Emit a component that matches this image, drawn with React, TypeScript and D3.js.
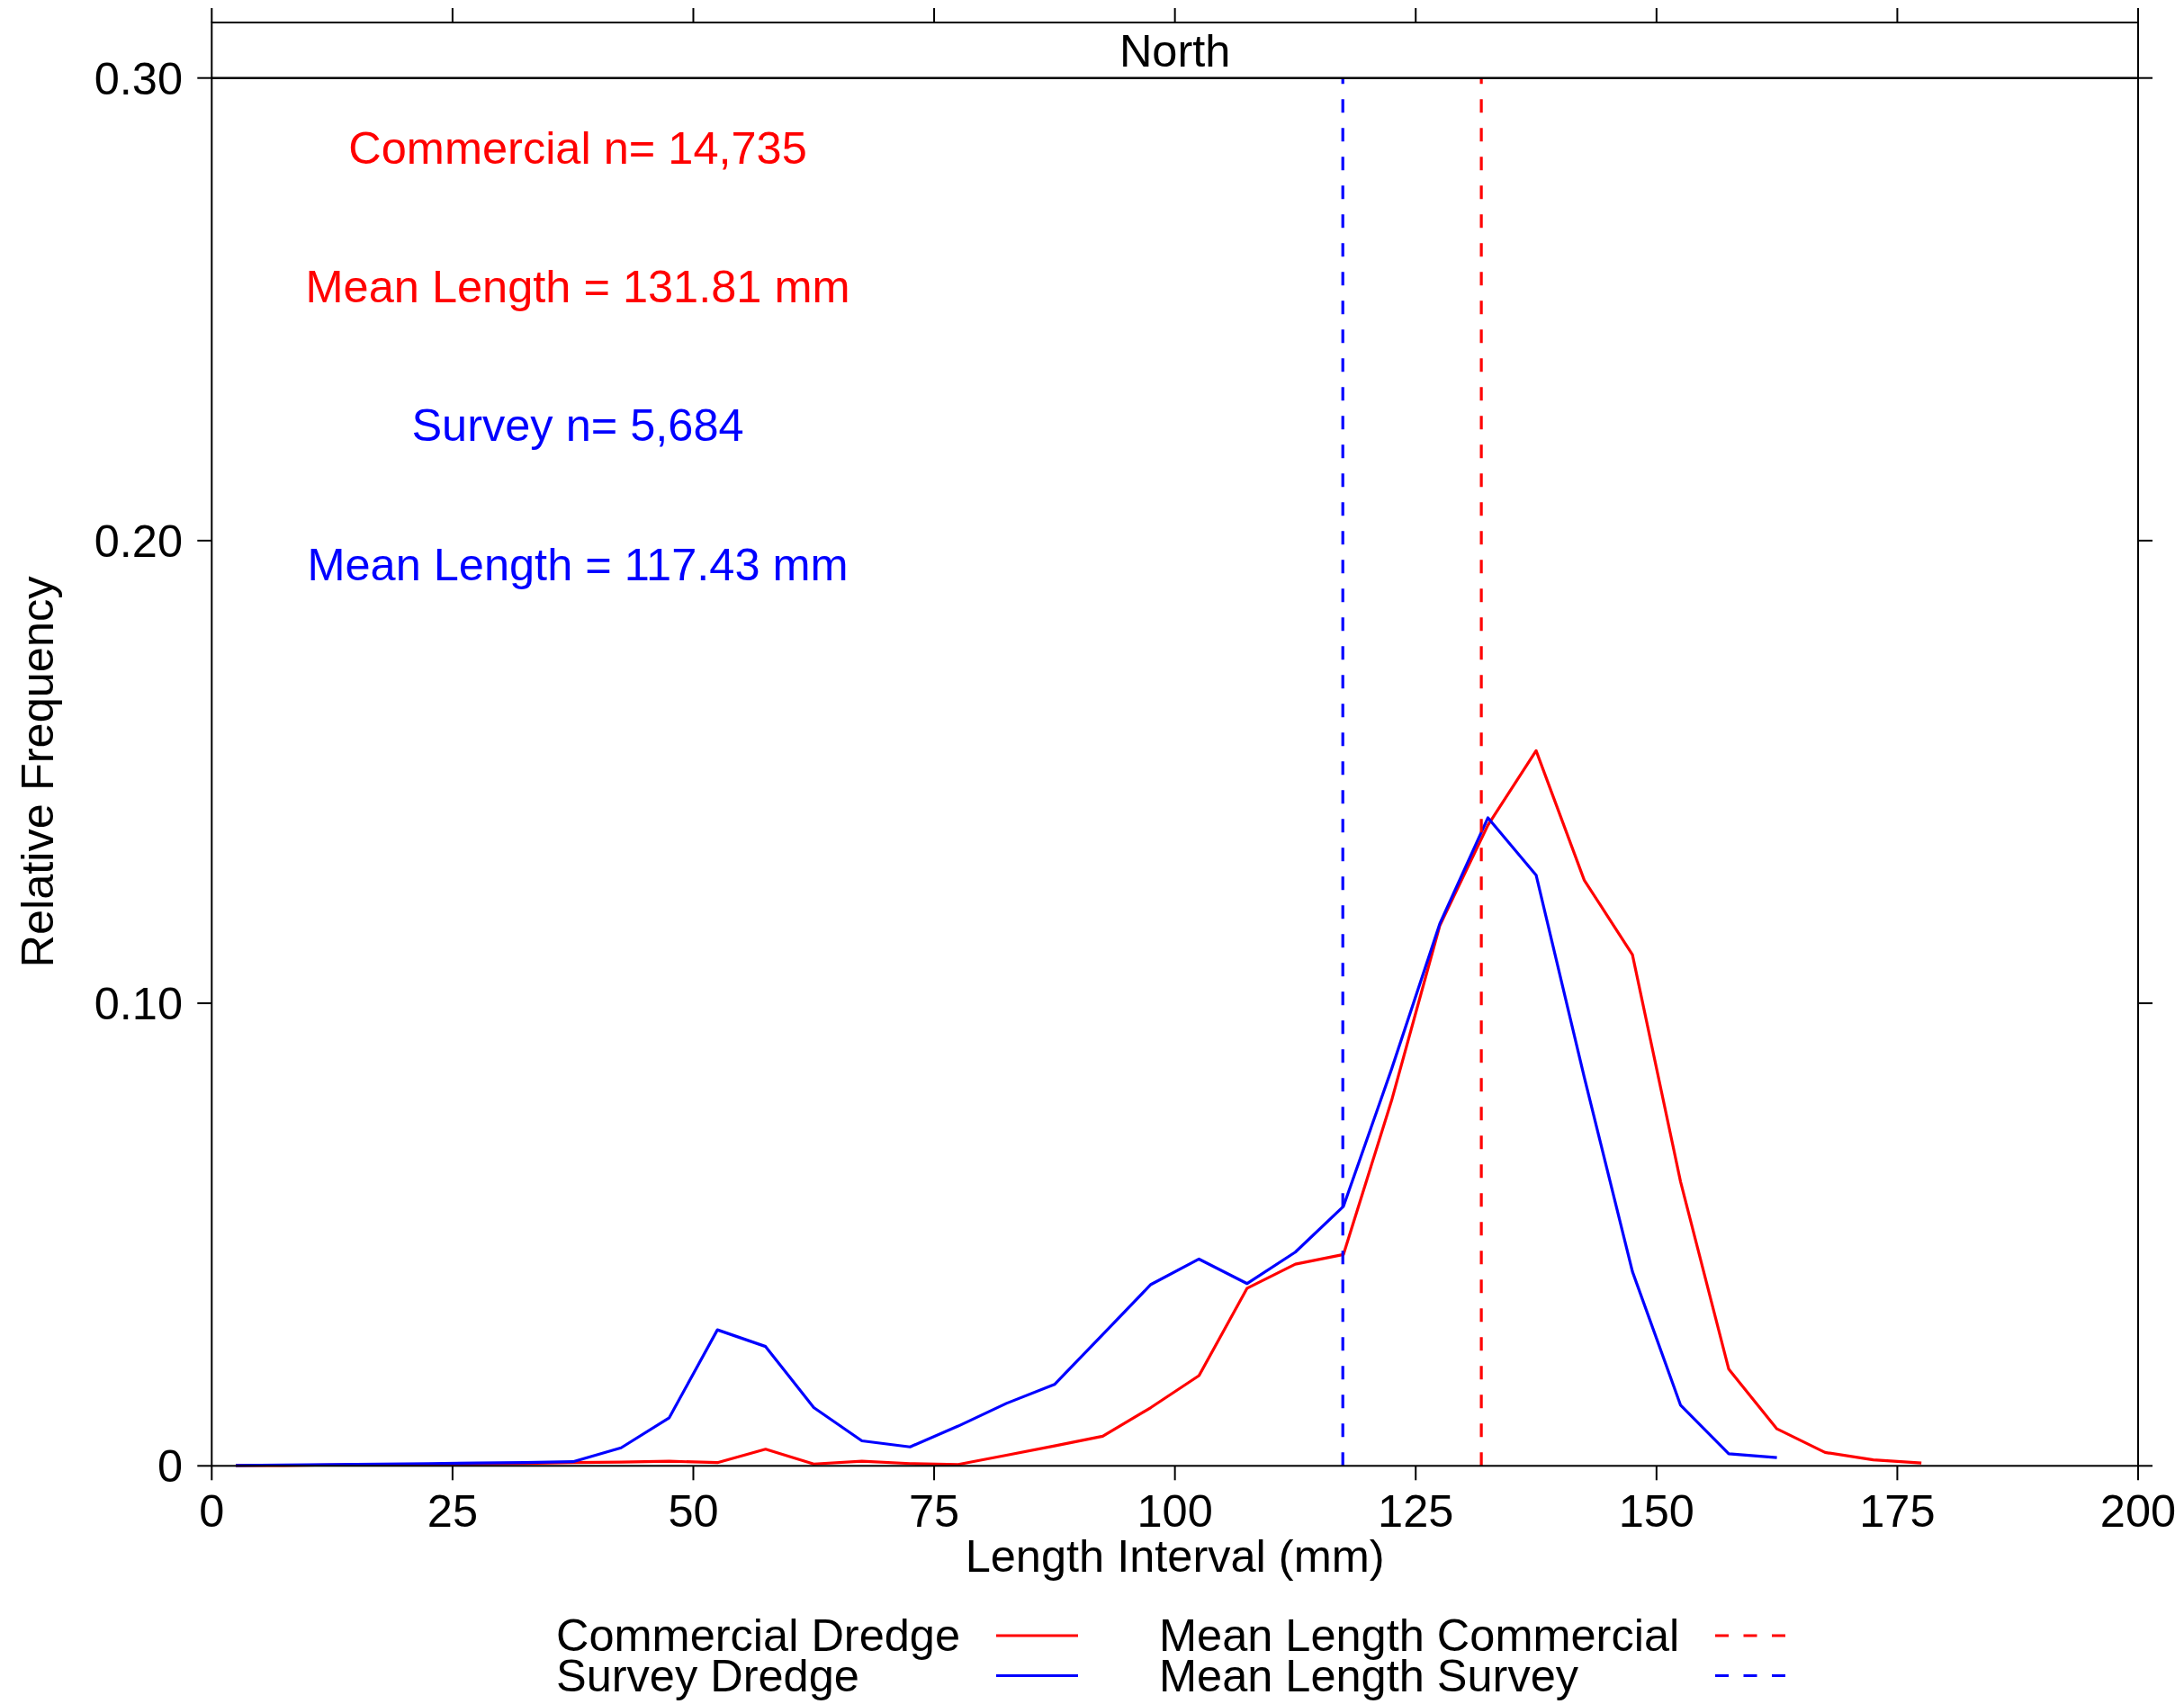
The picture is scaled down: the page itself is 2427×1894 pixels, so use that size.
import React from "react";
import * as d3 from "d3";

const lengthMid = [2.5, 7.5, 12.5, 17.5, 22.5, 27.5, 32.5, 37.5, 42.5, 47.5, 52.5, 57.5, 62.5, 67.5, 72.5, 77.5, 82.5, 87.5, 92.5, 97.5, 102.5, 107.5, 112.5, 117.5, 122.5, 127.5, 132.5, 137.5, 142.5, 147.5, 152.5, 157.5, 162.5, 167.5, 172.5, 177.5];

const commercialFreq = [0.0001, 0.0001, 0.0002, 0.0003, 0.0003, 0.0004, 0.0005, 0.0007, 0.0008, 0.001, 0.0007, 0.0036, 0.0004, 0.001, 0.0005, 0.0003, 0.0023, 0.0043, 0.0064, 0.0126, 0.0195, 0.0384, 0.0436, 0.0457, 0.079, 0.1168, 0.1385, 0.1546, 0.1266, 0.1105, 0.0614, 0.0209, 0.008, 0.0029, 0.0013, 0.0006];

const surveyFreq = [0.0001, 0.0002, 0.0003, 0.0004, 0.0005, 0.0006, 0.0007, 0.0009, 0.0039, 0.0104, 0.0294, 0.0258, 0.0126, 0.0054, 0.0041, 0.0086, 0.0135, 0.0176, 0.0284, 0.0392, 0.0447, 0.0394, 0.0462, 0.0561, 0.0858, 0.1172, 0.1401, 0.1277, 0.084, 0.042, 0.0131, 0.0026, 0.0018];

const meanCommercial = 131.81;
const meanSurvey = 117.43;

const xTicks = [0, 25, 50, 75, 100, 125, 150, 175, 200];
const yTicks = [0, 0.1, 0.2, 0.3];
const yTickLabels = ["0", "0.10", "0.20", "0.30"];

const panelTitle = "North";
const xTitle = "Length Interval (mm)";
const yTitle = "Relative Frequency";

const annotations = [
  { text: "Commercial n= 14,735", x: 38, y: 0.285, color: "#ff0000" },
  { text: "Mean Length = 131.81 mm", x: 38, y: 0.255, color: "#ff0000" },
  { text: "Survey n= 5,684", x: 38, y: 0.225, color: "#0000ff" },
  { text: "Mean Length = 117.43 mm", x: 38, y: 0.195, color: "#0000ff" },
];

const legendLeft = ["Commercial Dredge", "Survey Dredge"];
const legendRight = ["Mean Length Commercial", "Mean Length Survey"];
const legendColors = ["#ff0000", "#0000ff"];

export default function App() {
  const W = 2427;
  const H = 1894;
  const left = 235.3;
  const right = 2376;
  const bottom = 1629.3;
  const top = 86.7;
  const stripTop = 25;
  const font = "'Liberation Sans', Arial, Helvetica, sans-serif";
  const fs = 50.5;

  const x = d3.scaleLinear().domain([0, 200]).range([left, right]);
  const y = d3.scaleLinear().domain([0, 0.3]).range([bottom, top]);

  const line = d3
    .line<[number, number]>()
    .x((d) => x(d[0]))
    .y((d) => y(d[1]));

  const redPts: [number, number][] = commercialFreq.map((v, i) => [lengthMid[i], v]);
  const bluePts: [number, number][] = surveyFreq.map((v, i) => [lengthMid[i], v]);

  const dash = "15 17";

  return (
    <svg
      width={W}
      height={H}
      style={{ position: "absolute", left: 0, top: 0, background: "#fff" }}
      fontFamily={font}
    >
      <rect x={0} y={0} width={W} height={H} fill="#fff" />
      {/* data lines */}
      <path d={line(redPts) || ""} fill="none" stroke="#ff0000" strokeWidth={3.2} strokeLinejoin="round" />
      <path d={line(bluePts) || ""} fill="none" stroke="#0000ff" strokeWidth={3.2} strokeLinejoin="round" />
      {/* mean lines */}
      <line x1={x(meanSurvey)} x2={x(meanSurvey)} y1={y(0)} y2={y(0.3)} stroke="#0000ff" strokeWidth={3.2} strokeDasharray={dash} />
      <line x1={x(meanCommercial)} x2={x(meanCommercial)} y1={y(0)} y2={y(0.3)} stroke="#ff0000" strokeWidth={3.2} strokeDasharray={dash} />

      {/* frame */}
      <rect x={left} y={stripTop} width={right - left} height={bottom - stripTop} fill="none" stroke="#000" strokeWidth={2} />
      <line x1={left} x2={right} y1={top} y2={top} stroke="#000" strokeWidth={2.4} />
      <text x={(left + right) / 2} y={stripTop + 49} textAnchor="middle" fontSize={fs} fill="#000">
        {panelTitle}
      </text>

      {/* x ticks bottom & top */}
      {xTicks.map((t) => (
        <g key={"xt" + t}>
          <line x1={x(t)} x2={x(t)} y1={bottom} y2={bottom + 16} stroke="#000" strokeWidth={2} />
          <line x1={x(t)} x2={x(t)} y1={stripTop} y2={stripTop - 16} stroke="#000" strokeWidth={2} />
          <text x={x(t)} y={1697} textAnchor="middle" fontSize={fs} fill="#000">
            {t}
          </text>
        </g>
      ))}

      {/* y ticks left & right */}
      {yTicks.map((t, i) => (
        <g key={"yt" + t}>
          <line x1={left - 16} x2={left} y1={y(t)} y2={y(t)} stroke="#000" strokeWidth={2} />
          <line x1={right} x2={right + 16} y1={y(t)} y2={y(t)} stroke="#000" strokeWidth={2} />
          <text x={203} y={y(t) + 18} textAnchor="end" fontSize={fs} fill="#000">
            {yTickLabels[i]}
          </text>
        </g>
      ))}

      {/* axis titles */}
      <text x={(left + right) / 2} y={1747} textAnchor="middle" fontSize={fs} fill="#000">
        {xTitle}
      </text>
      <text
        transform={`translate(59, ${(top + bottom) / 2}) rotate(-90)`}
        textAnchor="middle"
        fontSize={fs}
        fill="#000"
      >
        {yTitle}
      </text>

      {/* annotations */}
      {annotations.map((a) => (
        <text key={a.text} x={x(a.x)} y={y(a.y) + 18} textAnchor="middle" fontSize={fs} fill={a.color}>
          {a.text}
        </text>
      ))}

      {/* legend */}
      {legendLeft.map((lab, i) => (
        <g key={lab}>
          <text x={618} y={1835 + i * 44.5} fontSize={fs} fill="#000">
            {lab}
          </text>
          <line x1={1107} x2={1198} y1={1818 + i * 44.5} y2={1818 + i * 44.5} stroke={legendColors[i]} strokeWidth={3.2} />
        </g>
      ))}
      {legendRight.map((lab, i) => (
        <g key={lab}>
          <text x={1288} y={1835 + i * 44.5} fontSize={fs} fill="#000">
            {lab}
          </text>
          <line x1={1906} x2={1984} y1={1818 + i * 44.5} y2={1818 + i * 44.5} stroke={legendColors[i]} strokeWidth={3.2} strokeDasharray="15 16.5" />
        </g>
      ))}
    </svg>
  );
}
